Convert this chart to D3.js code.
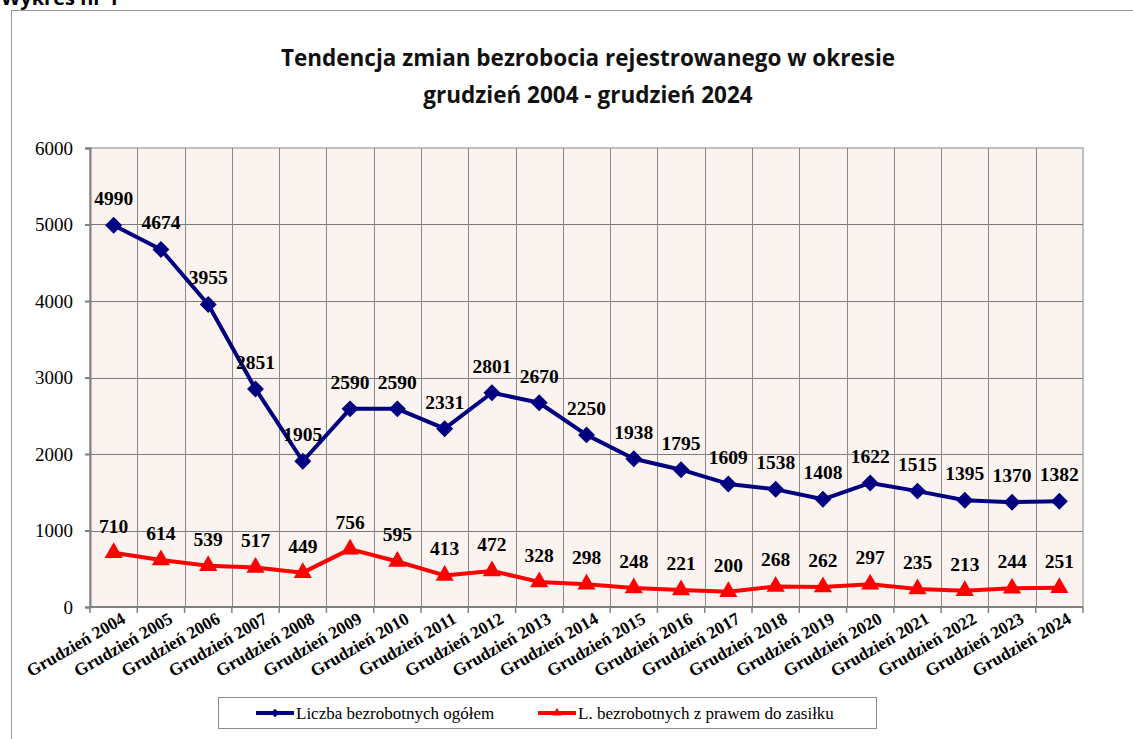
<!DOCTYPE html>
<html>
<head>
<meta charset="utf-8">
<script src="https://cdn.jsdelivr.net/npm/d3@7"></script>
<style>
  body { margin: 0; background: #fff; }
  svg { display: block; }
  text { font-family: "Liberation Serif", "Times New Roman", serif; }
  text.sans { font-family: "Open Sans", "Noto Sans", sans-serif; }
</style>
</head>
<body>
<div class="chart"></div>
<script>
var width = 1133;
var height = 739;

// data
var years = ["Grudzień 2004", "Grudzień 2005", "Grudzień 2006", "Grudzień 2007", "Grudzień 2008",
  "Grudzień 2009", "Grudzień 2010", "Grudzień 2011", "Grudzień 2012", "Grudzień 2013",
  "Grudzień 2014", "Grudzień 2015", "Grudzień 2016", "Grudzień 2017", "Grudzień 2018",
  "Grudzień 2019", "Grudzień 2020", "Grudzień 2021", "Grudzień 2022", "Grudzień 2023", "Grudzień 2024"];
var ogolem = [4990, 4674, 3955, 2851, 1905, 2590, 2590, 2331, 2801, 2670, 2250,
  1938, 1795, 1609, 1538, 1408, 1622, 1515, 1395, 1370, 1382];
var zasilek = [710, 614, 539, 517, 449, 756, 595, 413, 472, 328, 298,
  248, 221, 200, 268, 262, 297, 235, 213, 244, 251];
var yTicks = [0, 1000, 2000, 3000, 4000, 5000, 6000];
var seriesNames = ["Liczba bezrobotnych ogółem", "L. bezrobotnych z prawem do zasiłku"];

var margin = {top: 148, right: 50, bottom: 132, left: 90};
var plotW = width - margin.left - margin.right;
var plotH = height - margin.top - margin.bottom;

var svg = d3.select(".chart").append("svg")
  .attr("width", width)
  .attr("height", height);

// "Wykres nr 1" caption, cut off at the top like in the scan
svg.append("text")
  .attr("class", "sans")
  .attr("x", 1).attr("y", 5)
  .style("font-weight", "bold")
  .style("font-size", "20px")
  .text("Wykres nr 1");

// outer frame
svg.append("rect")
  .attr("x", 11.5).attr("y", 10.5)
  .attr("width", 1140).attr("height", 760)
  .attr("fill", "none")
  .attr("stroke", "#9a9a9a");

// title
var title = svg.append("text")
  .attr("class", "sans")
  .attr("text-anchor", "middle")
  .style("font-weight", "bold")
  .style("font-size", "22.5px")
  .attr("fill", "#111");
title.append("tspan").attr("x", 588).attr("y", 66).text("Tendencja zmian bezrobocia rejestrowanego w okresie");
title.append("tspan").attr("x", 588).attr("y", 103).text("grudzień 2004 - grudzień 2024");

var g = svg.append("g").attr("transform", "translate(" + margin.left + "," + margin.top + ")");

var x = d3.scaleBand().domain(years).range([0, plotW]);
var y = d3.scaleLinear().domain([0, 6000]).range([plotH, 0]);

g.append("rect")
  .attr("width", plotW).attr("height", plotH)
  .attr("fill", "#fbf3ef")
  .attr("stroke", "#c0c0c0")
  .attr("stroke-width", 2);

// horizontal grid
g.append("g")
  .selectAll("line")
  .data(yTicks.slice(1, -1))
  .enter().append("line")
  .attr("x1", 0).attr("x2", plotW)
  .attr("y1", function(d) { return Math.round(y(d)) + 0.5; })
  .attr("y2", function(d) { return Math.round(y(d)) + 0.5; })
  .attr("stroke", "#7a7a7a");

// vertical grid at category boundaries
g.append("g")
  .selectAll("line")
  .data(years.slice(1))
  .enter().append("line")
  .attr("x1", function(d) { return Math.round(x(d)) + 0.5; })
  .attr("x2", function(d) { return Math.round(x(d)) + 0.5; })
  .attr("y1", 0).attr("y2", plotH)
  .attr("stroke", "#8a8a8a");

// y axis
var yAxis = g.append("g")
  .call(d3.axisLeft(y).tickValues(yTicks).tickSize(5).tickPadding(12).tickFormat(d3.format("d")))
  .attr("font-family", null);
yAxis.selectAll("text")
  .style("font-size", "19px")
  .attr("fill", "#000");
yAxis.selectAll("line, path").attr("stroke", "#808080").attr("stroke-width", 2);

// x axis, ticks on category boundaries
var xAxis = g.append("g")
  .attr("transform", "translate(0," + plotH + ")");
xAxis.append("line")
  .attr("x1", 0).attr("x2", plotW)
  .attr("stroke", "#808080").attr("stroke-width", 2);
xAxis.selectAll(".tick")
  .data(d3.range(years.length + 1))
  .enter().append("line")
  .attr("class", "tick")
  .attr("x1", function(i) { return i * x.step(); })
  .attr("x2", function(i) { return i * x.step(); })
  .attr("y1", 0).attr("y2", 6)
  .attr("stroke", "#808080").attr("stroke-width", 1.5);
xAxis.selectAll(".lbl")
  .data(years)
  .enter().append("text")
  .attr("class", "lbl")
  .attr("text-anchor", "end")
  .style("font-weight", "bold")
  .style("font-size", "17.5px")
  .attr("transform", function(d) {
    return "translate(" + (x(d) + x.bandwidth() / 2 + 13) + ",15) rotate(-30)";
  })
  .text(function(d) { return d; });

var cx = function(d, i) { return x(years[i]) + x.bandwidth() / 2; };

var line = d3.line()
  .x(function(d, i) { return cx(d, i); })
  .y(function(d) { return y(d); });

var series = [
  {name: seriesNames[0], values: ogolem, color: "#000080", type: d3.symbolSquare, size: 110, rot: 45},
  {name: seriesNames[1], values: zasilek, color: "#ff0000", type: d3.symbolTriangle, size: 105, rot: 0}
];

series.forEach(function(s) {
  g.append("path")
    .datum(s.values)
    .attr("fill", "none")
    .attr("stroke", s.color)
    .attr("stroke-width", 4)
    .attr("stroke-linejoin", "round")
    .attr("d", line);

  g.append("g")
    .selectAll("path")
    .data(s.values)
    .enter().append("path")
    .attr("transform", function(d, i) {
      return "translate(" + cx(d, i) + "," + y(d) + ") rotate(" + s.rot + ")";
    })
    .attr("d", d3.symbol().type(s.type).size(s.size))
    .attr("fill", s.color)
    .attr("stroke", s.color)
    .attr("stroke-width", 1.5);

  g.append("g")
    .selectAll("text")
    .data(s.values)
    .enter().append("text")
    .attr("x", function(d, i) { return cx(d, i); })
    .attr("y", function(d) { return y(d) - 20; })
    .attr("text-anchor", "middle")
    .style("font-weight", "bold")
    .style("font-size", "19.5px")
    .attr("fill", "#000")
    .text(function(d) { return d; });
});

// legend
var legend = svg.append("g").attr("transform", "translate(218,697)");
legend.append("rect")
  .attr("x", 0.5).attr("y", 0.5)
  .attr("width", 658).attr("height", 31)
  .attr("fill", "#fff")
  .attr("stroke", "#8c8c8c");

var legendX = [38, 320];
series.forEach(function(s, i) {
  var lg = legend.append("g").attr("transform", "translate(" + legendX[i] + ",16)");
  lg.append("line")
    .attr("x1", 0).attr("x2", 38)
    .attr("stroke", s.color).attr("stroke-width", 4);
  lg.append("path")
    .attr("transform", "translate(19,0) rotate(" + s.rot + ")")
    .attr("d", d3.symbol().type(s.type).size(35))
    .attr("fill", s.color);
  lg.append("text")
    .attr("x", 40).attr("y", 6)
    .style("font-size", "17px")
    .text(s.name);
});
</script>
</body>
</html>
